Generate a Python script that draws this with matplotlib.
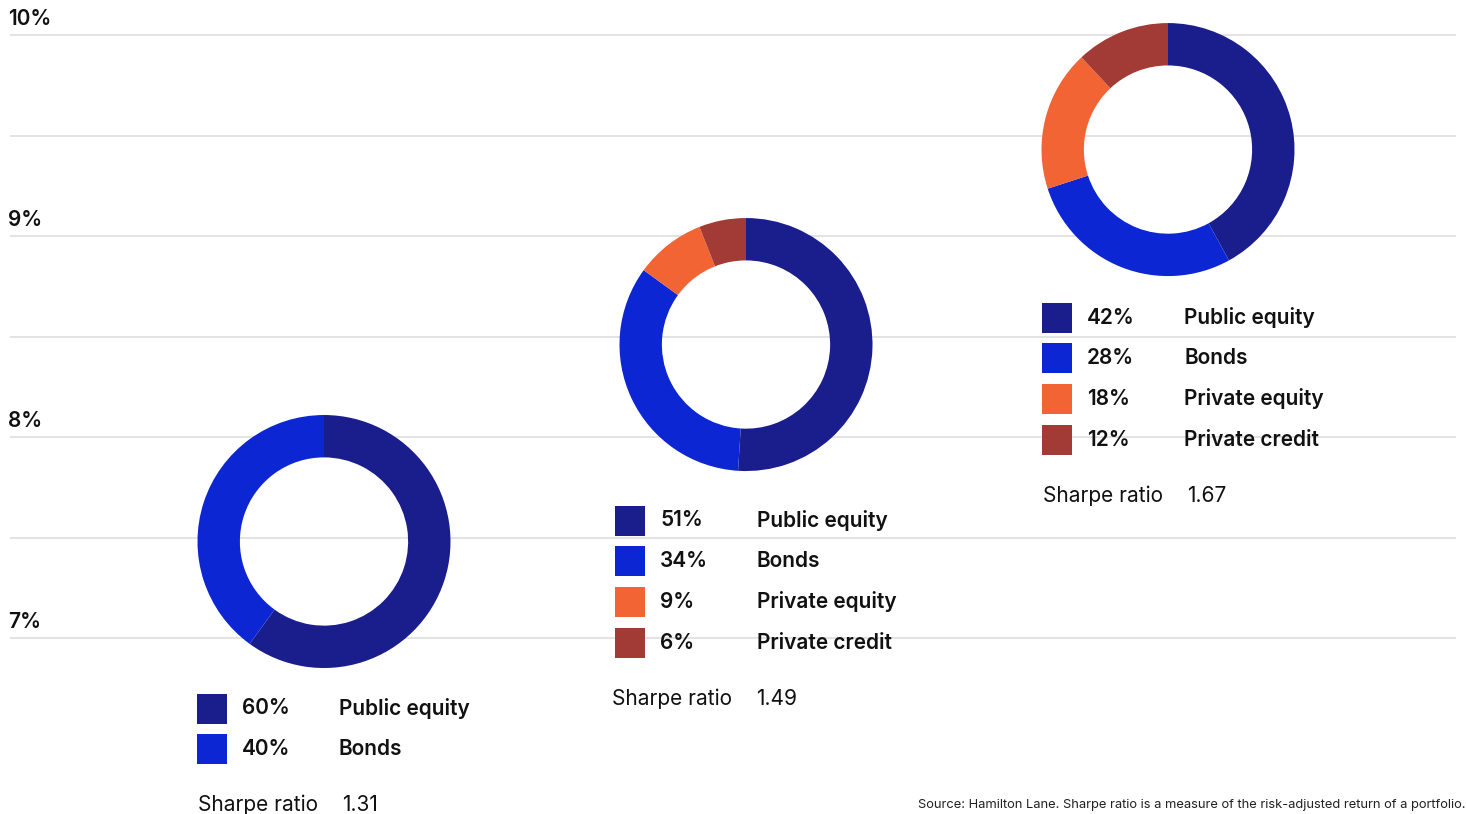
import numpy as np
import matplotlib.pyplot as plt

# portfolio mixes (expected return, allocation shares) and Sharpe ratios
categories = ['Public equity', 'Bonds', 'Private equity', 'Private credit']
colors = ['#1a1d8c', '#0c26d3', '#f26434', '#a23a36']
returns = [7.48, 8.46, 9.43]
mixes = [
    [60, 40],
    [51, 34, 9, 6],
    [42, 28, 18, 12],
]
sharpe = ['1.31', '1.49', '1.67']
yticks = [7, 8, 9, 10]

W, H = 1466, 814
plt.rcParams['font.family'] = ['Inter', 'DejaVu Sans']

# pixel <-> percent mapping: 10% line at y=35px, 7% line at y=638px
px_per_pct = (638 - 35) / 3
ytop = 10 + 35 / px_per_pct
ybot = 7 - (H - 638) / px_per_pct


def py2y(py):
    return 10 - (py - 35) / px_per_pct


fig = plt.figure(figsize=(W / 100, H / 100), dpi=100)
ax = fig.add_axes([0, 0, 1, 1])
ax.set_xlim(0, W)
ax.set_ylim(ybot, ytop)
ax.axis('off')

# gridlines every half percent, labels on whole percents
ax.hlines(np.arange(7, 10.01, 0.5), 10, 1456, color='#dedede', lw=1.2, zorder=0)
for t in yticks:
    ax.text(8, t + 6 / px_per_pct, f'{t}%', fontsize=15, fontweight='semibold',
            ha='left', va='bottom', color='#111111')

centers_x = [324, 746, 1168]
radius_px = 126.5
legend_x = [197, 615, 1042]
legend_top = [708.5, 520.5, 317.5]
sharpe_x = [198, 612, 1043]
row_gap = 40.7

for i, (cx, ret, mix) in enumerate(zip(centers_x, returns, mixes)):
    fx = cx / W
    fy = (ret - ybot) / (ytop - ybot)
    w = 2 * radius_px / W
    h = 2 * radius_px / H
    dax = fig.add_axes([fx - w / 2, fy - h / 2, w, h])
    dax.pie(mix, colors=colors[:len(mix)], startangle=90, counterclock=False,
            radius=1, wedgeprops=dict(width=0.335, linewidth=0))
    dax.set_xlim(-1, 1)
    dax.set_ylim(-1, 1)
    dax.axis('off')

    x0 = legend_x[i]
    sq = 30 / px_per_pct
    for j, v in enumerate(mix):
        y = py2y(legend_top[i] + j * row_gap)
        ax.add_patch(plt.Rectangle((x0, y - sq / 2), 30, sq,
                                   color=colors[j], lw=0, zorder=3))
        ax.text(x0 + 45, y, f'{v}%', fontsize=15, fontweight='semibold',
                ha='left', va='center', color='#111111', zorder=4)
        ax.text(x0 + 142, y, categories[j], fontsize=15, fontweight='semibold',
                ha='left', va='center', color='#111111', zorder=4)
    y = py2y(legend_top[i] + (len(mix) - 1) * row_gap + 56)
    ax.text(sharpe_x[i], y, 'Sharpe ratio', fontsize=15, ha='left', va='center',
            color='#111111')
    ax.text(sharpe_x[i] + 144, y, sharpe[i], fontsize=15, ha='left', va='center',
            color='#111111')

ax.text(1465, py2y(805),
        'Source: Hamilton Lane. Sharpe ratio is a measure of the risk-adjusted return of a portfolio.',
        fontsize=9.3, ha='right', va='center', color='#222222')

fig.savefig('out.png', dpi=100)
